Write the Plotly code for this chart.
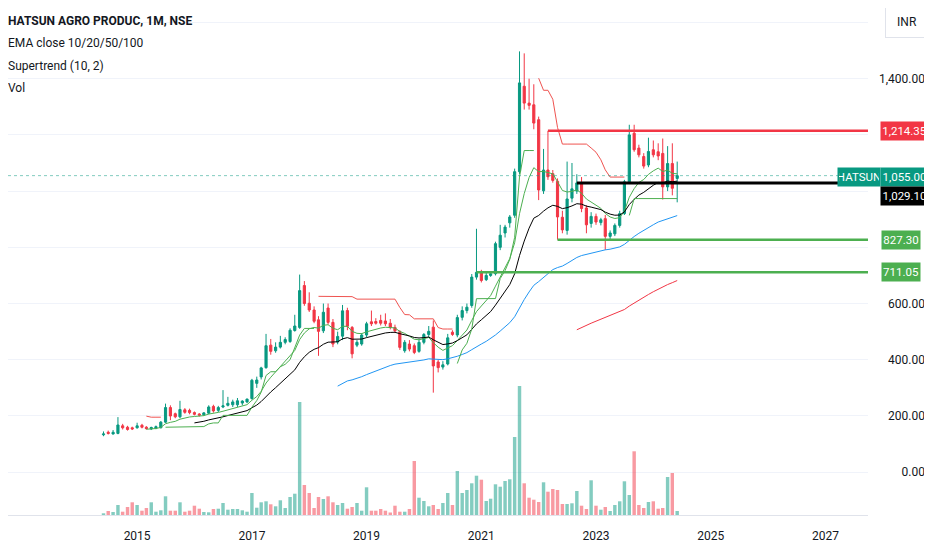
import pandas as pd
import plotly.graph_objects as go

# monthly bars, NSE:HATSUN, first bar Jun 2014
first_month = "2014-06-01"

open_ = [133, 142, 136, 138, 165, 160, 158, 158, 167, 160, 154, 156, 158, 178, 230, 208, 197, 222, 220, 212,
         207, 204, 210, 234, 220, 232, 238, 240, 240, 246, 250, 262, 316, 339, 372, 452, 432, 445, 462, 465,
         504, 515, 664, 601, 577, 542, 503, 584, 533, 463, 484, 575, 515, 452, 456, 488, 535, 536, 540, 538,
         530, 515, 500, 432, 456, 450, 430, 462, 490, 516, 392, 374, 385, 498, 488, 551, 575, 593, 694, 712,
         685, 700, 706, 800, 851, 887, 914, 1069, 1373, 1313, 1307, 1254, 1001, 1075, 1062, 1035, 907, 860, 975, 1000,
         1029.1, 940, 885, 910, 888, 902, 839, 848, 878, 920, 1033, 1206, 1153, 1123, 1093, 1147, 1140, 1134, 1015, 1098,
         1045]
high = [145, 148, 150, 196, 172, 165, 162, 176, 172, 164, 162, 166, 182, 244, 238, 212, 254, 228, 226, 216,
        210, 214, 238, 240, 236, 292, 268, 258, 264, 256, 262, 332, 340, 375, 492, 474, 462, 485, 480, 512,
        560, 703, 680, 640, 590, 555, 600, 600, 545, 500, 595, 585, 520, 470, 495, 535, 575, 548, 560, 565,
        545, 525, 505, 470, 470, 458, 475, 495, 520, 540, 400, 395, 492, 505, 560, 590, 600, 705, 866, 720,
        710, 712, 820, 880, 880, 915, 1080, 1497, 1490, 1400, 1380, 1265, 1150, 1214.35, 1075, 1045, 930, 1105, 1100, 1060,
        1050, 950, 925, 920, 905, 915, 860, 885, 930, 1040, 1236, 1236, 1165, 1135, 1190, 1180, 1170, 1187, 1160, 1170,
        1105]
low = [128, 134, 134, 135, 152, 148, 150, 155, 156, 152, 150, 153, 156, 175, 185, 192, 192, 208, 206, 202,
       198, 200, 206, 212, 214, 228, 234, 232, 232, 238, 246, 258, 300, 330, 368, 418, 425, 440, 455, 460,
       500, 510, 592, 570, 530, 414, 495, 525, 445, 455, 470, 505, 405, 445, 450, 480, 520, 525, 522, 520,
       508, 495, 435, 425, 430, 420, 425, 455, 480, 283, 355, 365, 380, 485, 480, 540, 565, 585, 685, 675,
       680, 695, 700, 790, 835, 870, 905, 1060, 1290, 1290, 1220, 968, 990, 1040, 1030, 827.3, 850, 845, 960, 990,
       925, 850, 870, 880, 878, 791, 825, 840, 870, 915, 1025, 1140, 1120, 1080, 1085, 1120, 1110, 970, 1000, 985,
       960]
close = [136, 138, 142, 168, 158, 152, 154, 165, 160, 155, 159, 162, 178, 230, 200, 197, 223, 213, 212, 206,
         203, 211, 232, 218, 230, 236, 245, 250, 254, 253, 260, 327, 328, 371, 450, 430, 445, 462, 472, 505,
         520, 646, 600, 577, 537, 501, 569, 533, 456, 483, 574, 519, 421, 462, 488, 528, 528, 530, 530, 528,
         515, 503, 444, 462, 438, 426, 462, 490, 501, 378, 372, 382, 478, 490, 550, 575, 587, 694, 711.05, 682,
         700, 706, 813, 843, 872, 908, 1069, 1385, 1313, 1305, 1242, 1004, 1075, 1051, 1038, 908, 862, 972, 1008, 1029.1,
         938, 880, 910, 890, 898, 839, 851, 878, 920, 1033, 1200, 1147, 1129, 1089, 1141, 1129, 1125, 1015, 1098, 1010,
         1055]
volume = [1.7, 4, 3, 10, 3.3, 8, 12.7, 10, 4.3, 7, 12.7, 3.3, 4.7, 18.7, 4.3, 4.3, 12.7, 3.3, 4.3, 9.3,
          6.3, 3, 2.7, 6, 6.3, 12, 5.3, 6, 6, 4.7, 3.3, 22, 7.3, 12.7, 13.7, 10.7, 8.7, 14.7, 7, 18,
          21.3, 113, 30, 22, 7, 18, 16, 18.7, 12.7, 10, 12, 6.3, 8, 12, 4.3, 27.7, 4.3, 4.3, 6, 4.3,
          2.5, 9.3, 3.3, 3.3, 6, 54, 17.3, 14, 8.7, 10, 6, 12, 22, 10, 44, 22, 25, 31.7, 39.3, 35.3,
          14, 16.3, 30.7, 28.3, 34, 35.7, 78, 129, 31.7, 17.3, 15.3, 13, 32.7, 23.3, 26, 25, 11, 11, 11.7, 24,
          9.3, 6, 34.7, 9.3, 5.3, 8, 4, 10, 13.7, 33.7, 20, 63.7, 10, 7, 13, 13.7, 6.3, 7, 38, 42,
          4]

ema_lengths = [10, 20, 50, 100]
st_period, st_factor = 10, 2
year_ticks = [2015, 2017, 2019, 2021, 2023, 2025, 2027]
price_ticks = [0, 200, 400, 600, 800, 1000, 1200, 1400, 1600]
hidden_ticks = [800, 1000, 1200, 1600]   # covered by price tags / currency box

# drawn horizontal levels: price and the bar they start from
level_prices = [1214.35, 1029.10, 827.30, 711.05]
level_bars = [93, 99, 95, 78]
last_price = 1055.00
symbol = "HATSUN"

UP, DOWN = "#089981", "#f23645"
ema_colors = ["#4caf50", "#000000", "#2196f3", "#f23645"]
level_colors = ["#f23645", "#000000", "#4caf50", "#4caf50"]
level_widths = [2.5, 3, 2.5, 2.5]
FONT = "Roboto, sans-serif"

# the page has an 8px body margin; figure is sized to end at the window edge
W, H, PAD = 924, 542, 8
PLOT_R, PLOT_B = 868, 515          # page px of plot right / bottom edge


def px(page_x):
    return (page_x - PAD) / W


def py(page_y):
    return (PLOT_B - page_y) / (PLOT_B - PAD)


months = pd.date_range(first_month, periods=len(close), freq="MS")


def tv_ema(src, length):
    out = [None] * len(src)
    alpha = 2 / (length + 1)
    prev = None
    for k in range(length - 1, len(src)):
        if prev is None:
            prev = sum(src[k - length + 1:k + 1]) / length
        else:
            prev = alpha * src[k] + (1 - alpha) * prev
        out[k] = prev
    return out


def tv_supertrend(h, l, c, period, factor):
    n = len(c)
    tr = [h[0] - l[0]] + [max(h[k] - l[k], abs(h[k] - c[k - 1]), abs(l[k] - c[k - 1])) for k in range(1, n)]
    atr = [None] * n
    for k in range(period - 1, n):
        atr[k] = sum(tr[:period]) / period if atr[k - 1] is None else (atr[k - 1] * (period - 1) + tr[k]) / period
    up, dn = [None] * n, [None] * n
    lower = upper = st = None
    for k in range(n):
        if atr[k] is None:
            continue
        mid = (h[k] + l[k]) / 2
        lb, ub = mid - factor * atr[k], mid + factor * atr[k]
        plb, pub = lower or 0, upper or 0
        lb = lb if (lb > plb or c[k - 1] < plb) else plb
        ub = ub if (ub < pub or c[k - 1] > pub) else pub
        if st is None:
            direction = 1
        elif st == pub:
            direction = -1 if c[k] > ub else 1
        else:
            direction = 1 if c[k] < lb else -1
        st = lb if direction == -1 else ub
        lower, upper = lb, ub
        if direction == -1:
            up[k] = st
        else:
            dn[k] = st
    return up, dn


# x range: ~4.78 px per bar, first bar centred at page x=103.5
px_per_day = 4.78 / 30.437
x_start = months[0] - pd.Timedelta(days=(103.5 - PAD) / px_per_day)
x_end = months[0] + pd.Timedelta(days=(PLOT_R - 103.5) / px_per_day)

# price scale: 0 at page y 472.2, 0.2811 px per rupee
y_lo = -(PLOT_B - 472.2) / 0.2811
y_hi = (472.2 - PAD) / 0.2811

fig = go.Figure()

vol_colors = ["rgba(8,153,129,0.5)" if c >= o else "rgba(242,54,69,0.5)" for o, c in zip(open_, close)]
fig.add_bar(x=months, y=volume, marker_color=vol_colors, marker_line_width=0, yaxis="y", hoverinfo="skip")

fig.add_candlestick(
    x=months, open=open_, high=high, low=low, close=close, yaxis="y2",
    increasing=dict(line=dict(color=UP, width=1), fillcolor=UP),
    decreasing=dict(line=dict(color=DOWN, width=1), fillcolor=DOWN),
    whiskerwidth=0,
)

for length, color in zip(ema_lengths, ema_colors):
    fig.add_scatter(x=months, y=tv_ema(close, length), mode="lines", yaxis="y2",
                    line=dict(color=color, width=1), connectgaps=False)

st_up, st_dn = tv_supertrend(high, low, close, st_period, st_factor)
fig.add_scatter(x=months, y=st_up, mode="lines", yaxis="y2", line=dict(color="#4caf50", width=1), connectgaps=False)
fig.add_scatter(x=months, y=st_dn, mode="lines", yaxis="y2", line=dict(color="#ef5350", width=1), connectgaps=False)

for price, bar, color, width in zip(level_prices, level_bars, level_colors, level_widths):
    fig.add_scatter(x=[months[bar], x_end], y=[price, price], mode="lines", yaxis="y2",
                    line=dict(color=color, width=width))

fig.add_shape(type="line", xref="paper", x0=0, x1=px(840), yref="y2", y0=last_price, y1=last_price,
              line=dict(color="rgba(8,153,129,0.5)", width=1, dash="dot"))

tick_text = ["" if v in hidden_ticks else f"{v:,.2f}" for v in price_ticks]

fig.update_layout(
    width=W, height=H,
    margin=dict(l=0, r=0, t=0, b=H - (PLOT_B - PAD)),
    paper_bgcolor="white", plot_bgcolor="white",
    showlegend=False, bargap=0.22,
    font=dict(family=FONT, size=12, color="#131722"),
    xaxis=dict(type="date", range=[x_start, x_end], domain=[0, px(PLOT_R)],
               tickvals=[pd.Timestamp(f"{y}-01-01") for y in year_ticks], tickformat="%Y", ticks="",
               showgrid=False, zeroline=False, showline=True, linecolor="#e0e3eb",
               rangeslider=dict(visible=False), ticklabelstandoff=10,
               tickfont=dict(family=FONT, size=12, color="#131722")),
    yaxis=dict(range=[0, PLOT_B - PAD], visible=False, fixedrange=True),
    yaxis2=dict(overlaying="y", anchor="free", position=px(925), side="left",
                range=[y_lo, y_hi], tickvals=price_ticks, ticktext=tick_text,
                ticks="", showgrid=True, gridcolor="#f0f3fa", zeroline=False, showline=False,
                automargin=False, tickfont=dict(family=FONT, size=12, color="#131722")),
)

# top-left legend
legend_lines = ["HATSUN AGRO PRODUC, 1M, NSE", "EMA close 10/20/50/100", "Supertrend (10, 2)", "Vol"]
for k, txt in enumerate(legend_lines):
    fig.add_annotation(text=f"<b>{txt}</b>" if k == 0 else txt,
                       xref="paper", yref="paper", x=px(6), y=py(21 + 22.3 * k),
                       xanchor="left", yanchor="middle", showarrow=False,
                       font=dict(family=FONT, size=12, color="#131722"))


# price scale labels
def price_tag(text, y, bg, cx, w, yshift=0):
    fig.add_annotation(text=text, xref="paper", x=px(cx), yref="y2", y=y, yshift=yshift,
                       xanchor="center", yanchor="middle", showarrow=False, bgcolor=bg,
                       width=w, height=16, borderpad=1, align="center",
                       font=dict(family=FONT, size=11.5, color="white"))


price_tag(f"{level_prices[0]:,.2f}", level_prices[0], "#f23645", 904.5, 45)
price_tag(symbol, last_price, UP, 859, 40, -1)
price_tag(f"{last_price:,.2f}", last_price, UP, 904.5, 45, -1)
price_tag(f"{level_prices[1]:,.2f}", level_prices[1], "#000000", 904.5, 45, -13)
price_tag(f"{level_prices[2]:,.2f}", level_prices[2], "#4caf50", 900.5, 36)
price_tag(f"{level_prices[3]:,.2f}", level_prices[3], "#4caf50", 900.5, 36)

fig.add_annotation(text="INR", xref="paper", yref="paper", x=px(906.5), y=py(21),
                   xanchor="center", yanchor="middle", showarrow=False, bgcolor="white",
                   bordercolor="#e0e3eb", borderwidth=1, borderpad=1, width=40, height=29,
                   font=dict(family=FONT, size=12, color="#131722"))

fig.write_html("out.html")
